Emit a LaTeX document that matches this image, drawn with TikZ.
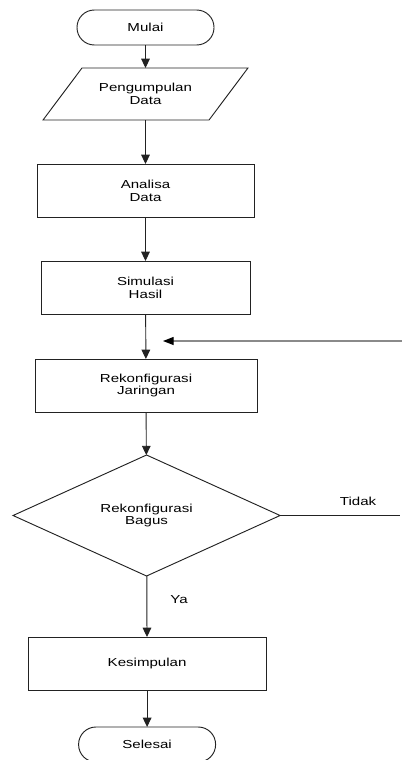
\documentclass[tikz,border=0pt]{standalone}
\usepackage{fontspec}
\setmainfont{Liberation Sans}[FakeStretch=1.3]
\usepackage{tikz}
\usetikzlibrary{arrows.meta,positioning,calc,shapes.geometric}
\definecolor{cLine}{HTML}{222222}
\definecolor{cFeed}{HTML}{8A8A8A}
\tikzset{
  blk/.style={draw=cLine, line width=0.7pt, fill=white, align=center,
              minimum height=39.75pt, inner sep=2pt, outer sep=0pt,
              font=\fontsize{8.7}{9.6}\selectfont},
  termblk/.style={blk, rounded corners=13pt, minimum width=102.75pt, minimum height=26.25pt},
  ioblk/.style={blk, draw=none, fill=none, minimum width=124.5pt, minimum height=39pt},
  decblk/.style={blk, diamond, aspect=2.2, minimum width=200.25pt, minimum height=90.75pt},
  arr/.style={-{Triangle[length=7pt, width=6.5pt]}, line width=0.7pt, cLine},
  fbarr/.style={-{Triangle[length=8pt, width=6pt, color=black]}, line width=0.9pt, cFeed},
  lbl/.style={font=\fontsize{8.7}{9.6}\selectfont, text=black}
}

\begin{document}
\begin{tikzpicture}[x=0.75pt, y=-0.75pt]
\useasboundingbox (0,0) rectangle (401,760);
% main column
\node[termblk] (mulai) at (145.5,27.5) {Mulai};
\node[ioblk, below=17.25pt of mulai] (data) {Pengumpulan\\Data};
\draw[cLine, line width=0.7pt] ([xshift=14.6pt]data.north west) -- ([xshift=14.6pt]data.north east)
  -- ([xshift=-14.6pt]data.south east) -- ([xshift=-14.6pt]data.south west) -- cycle;
\node[blk, minimum width=162.75pt, below=33pt of data] (analisa) {Analisa\\Data};
\node[blk, minimum width=156.75pt, below=33pt of analisa] (simulasi) {Simulasi\\Hasil};
\node[blk, minimum width=166.5pt, below=33.75pt of simulasi, xshift=0.4pt] (rekon) {Rekonfigurasi\\Jaringan};
\node[decblk, below=32.25pt of rekon, xshift=0.4pt] (cek) {Rekonfigurasi\\Bagus};
\node[blk, minimum width=178.5pt, below=45.75pt of cek, xshift=0.4pt] (simpul) {Kesimpulan};
\node[termblk, below=27.75pt of simpul] (selesai) {Selesai};
\draw[arr] (mulai) -- (data);
\draw[arr] (data) -- (analisa);
\draw[arr] (analisa) -- (simulasi);
\draw[arr] (simulasi) -- (rekon);
\draw[arr] (rekon) -- (cek);
\draw[arr] (cek) -- (simpul) node[lbl, pos=0.38, right=14pt]{Ya};
\draw[arr] (simpul) -- (selesai);
% loop back
\path (simulasi.south) ++(17.5,27) coordinate (fbend) ++(238.5,0) coordinate (fbstart);
\draw[fbarr] (fbstart) -- (fbend);
\path (cek.east) ++(120,0) coordinate (tdk);
\draw[cLine, line width=0.7pt] (cek.east) -- (tdk) node[lbl, pos=0.65, above=4pt]{Tidak};
\end{tikzpicture}
\end{document}
